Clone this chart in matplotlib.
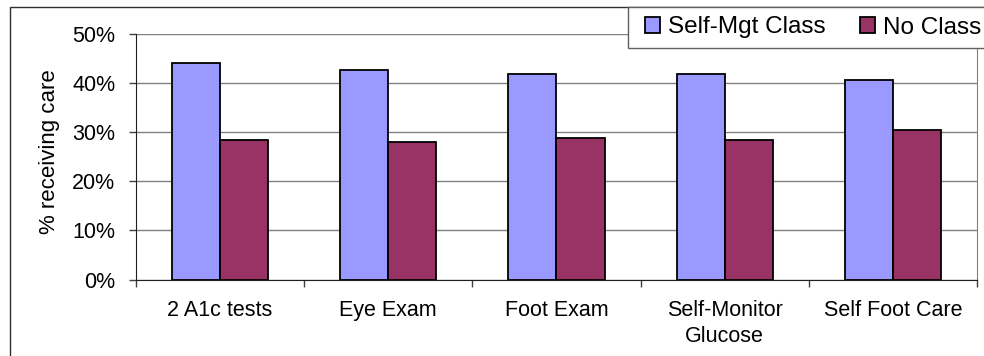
import numpy as np
import matplotlib
matplotlib.use("Agg")
import matplotlib.pyplot as plt
from matplotlib.patches import Rectangle
from matplotlib.ticker import PercentFormatter, FixedLocator

plt.rcParams['font.family'] = ['Liberation Sans', 'DejaVu Sans']

categories = ['2 A1c tests', 'Eye Exam', 'Foot Exam', 'Self-Monitor\nGlucose', 'Self Foot Care']
self_mgt = [44.0, 42.7, 41.8, 41.8, 40.6]
no_class = [28.4, 28.0, 28.8, 28.4, 30.4]
series_names = ['Self-Mgt Class', 'No Class']

W, H = 984, 356
fig = plt.figure(figsize=(W / 100, H / 100), dpi=100)

# outer chart frame (runs off the right and bottom edges)
fig.patches.append(Rectangle((10 / W, -0.2), 1.2, 1.2 - 7 / H,
                             transform=fig.transFigure, fill=False,
                             edgecolor='#303030', linewidth=1.0, zorder=0))

ax = fig.add_axes([136 / W, (H - 279.5) / H, 841 / W, 245.5 / H])

x = np.arange(len(categories))
bw = 0.286
b1 = ax.bar(x - bw / 2, np.array(self_mgt) / 100, bw, color='#9999FF',
            edgecolor='black', linewidth=1.3, label=series_names[0], zorder=3)
b2 = ax.bar(x + bw / 2, np.array(no_class) / 100, bw, color='#993366',
            edgecolor='black', linewidth=1.3, label=series_names[1], zorder=3)

ax.set_xlim(-0.5, len(categories) - 0.5)
ax.set_ylim(0, 0.5)
ax.set_yticks(np.arange(0, 0.51, 0.1))
ax.yaxis.set_major_formatter(PercentFormatter(1.0, decimals=0))
ax.yaxis.grid(True, color='#808080', linewidth=1.0, zorder=0)
ax.set_axisbelow(True)

ax.set_xticks(x)
ax.set_xticklabels(categories, fontsize=15.5, linespacing=1.3)
ax.xaxis.set_minor_locator(FixedLocator(np.arange(-0.5, len(categories), 1.0)))
ax.tick_params(axis='x', which='major', length=0, pad=15)
ax.tick_params(axis='x', which='minor', length=5, width=1, color='#404040', direction='out')
ax.tick_params(axis='y', length=5, width=1, color='#404040', pad=10, labelsize=15.5)

ax.set_ylabel('% receiving care', fontsize=16)
ax.yaxis.set_label_coords(-0.09, 0.52)

ax.spines['top'].set_visible(False)
ax.spines['right'].set_color('#808080')
ax.spines['left'].set_color('#202020')
ax.spines['bottom'].set_color('#202020')

# legend box
fig.patches.append(Rectangle((627.7 / W, 1 - 47.7 / H), 0.5, 40.7 / H,
                             transform=fig.transFigure, facecolor='white',
                             edgecolor='#606060', linewidth=1.0, zorder=5))
leg = fig.legend(handles=[b1, b2], labels=series_names, loc='center left',
                 bbox_to_anchor=(645 / W, 1 - 27.5 / H), ncol=2, frameon=False,
                 fontsize=17.5, borderpad=0, borderaxespad=0,
                 handlelength=0.62, handleheight=0.62, handletextpad=0.33,
                 columnspacing=1.4)
leg.set_zorder(6)

fig.savefig('out.png', dpi=100)
